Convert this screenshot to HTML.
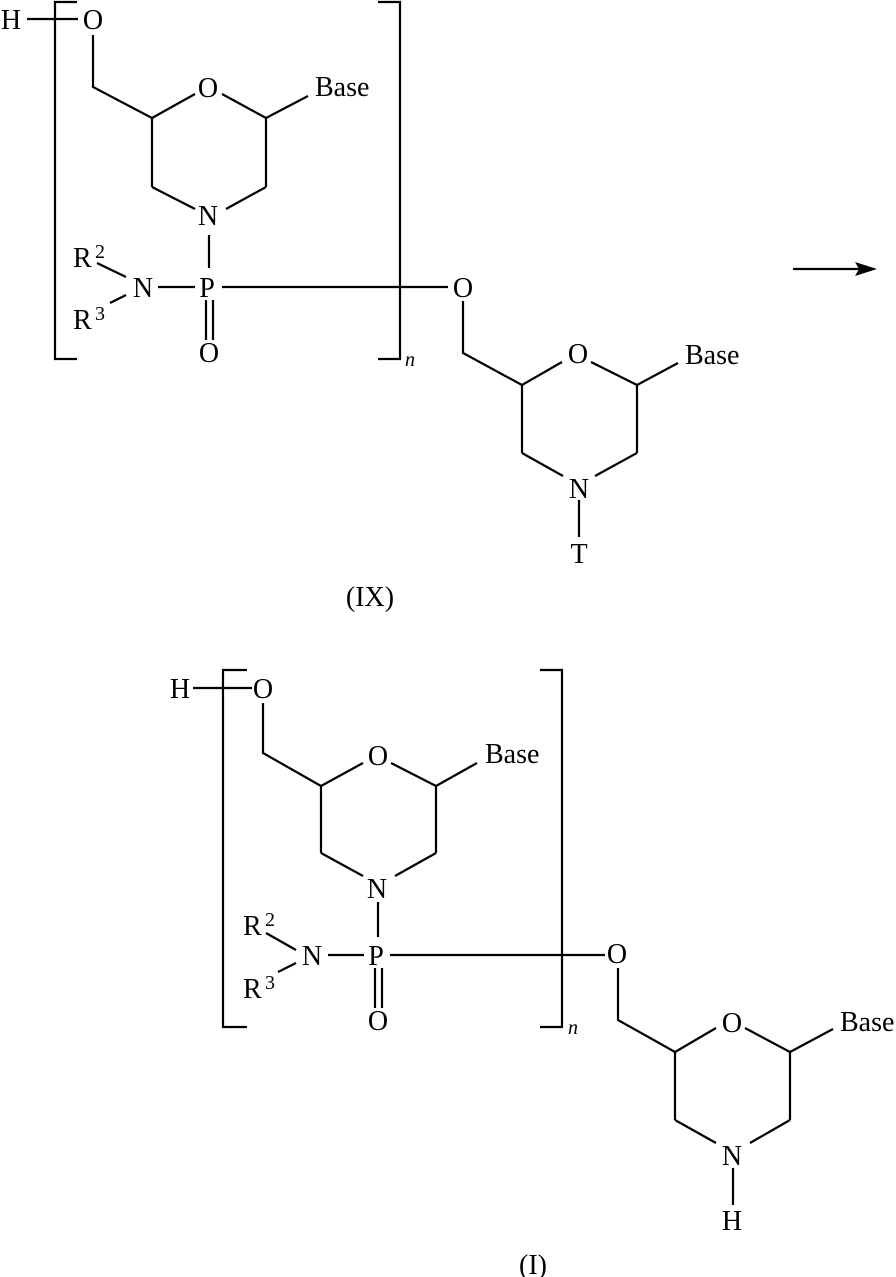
<!DOCTYPE html>
<html><head><meta charset="utf-8"><style>
html,body{margin:0;padding:0;background:#fff;}
svg{display:block;}
text{font-family:"Liberation Serif",serif;font-size:28px;fill:#000;}
.s{font-size:20px;}
.n{font-style:italic;font-size:20px;}
</style></head><body>
<svg width="896" height="1277" viewBox="0 0 896 1277" xmlns="http://www.w3.org/2000/svg">
<g stroke="#000" stroke-width="2.2" fill="none">
<line x1="27" y1="19" x2="78" y2="19"/>
<polyline points="77,2 55,2 55,359 77,359"/>
<polyline points="378,2 400,2 400,359 378,359"/>
<polyline points="93,35 93,87 152,118"/>
<line x1="152" y1="118" x2="195" y2="94"/>
<line x1="222" y1="94" x2="266" y2="118"/>
<line x1="266" y1="118" x2="308" y2="96"/>
<line x1="152" y1="118" x2="152" y2="187"/>
<line x1="266" y1="118" x2="266" y2="187"/>
<line x1="152" y1="187" x2="195" y2="209"/>
<line x1="226" y1="209" x2="266" y2="187"/>
<line x1="209" y1="235" x2="209" y2="268"/>
<line x1="97" y1="263" x2="126" y2="277"/>
<line x1="110" y1="303" x2="126" y2="295"/>
<line x1="158" y1="287" x2="195" y2="287"/>
<line x1="222" y1="287" x2="448" y2="287"/>
<line x1="206" y1="300" x2="206" y2="340"/>
<line x1="213" y1="300" x2="213" y2="340"/>
<polyline points="463,301 463,353 522,385"/>
<line x1="522" y1="385" x2="562" y2="362"/>
<line x1="591" y1="362" x2="637" y2="385"/>
<line x1="637" y1="385" x2="678" y2="363"/>
<line x1="522" y1="385" x2="522" y2="453"/>
<line x1="637" y1="385" x2="637" y2="453"/>
<line x1="522" y1="453" x2="563" y2="476"/>
<line x1="595" y1="476" x2="637" y2="453"/>
<line x1="579" y1="500" x2="579" y2="537"/>
<line x1="793" y1="269" x2="860" y2="269"/>
<line x1="193" y1="688" x2="252" y2="688"/>
<polyline points="247,670 223,670 223,1027 247,1027"/>
<polyline points="540,670 562,670 562,1027 540,1027"/>
<polyline points="263,703 263,753 321,786"/>
<line x1="321" y1="786" x2="363" y2="763"/>
<line x1="391" y1="763" x2="436" y2="786"/>
<line x1="436" y1="786" x2="477" y2="763"/>
<line x1="321" y1="786" x2="321" y2="853"/>
<line x1="436" y1="786" x2="436" y2="853"/>
<line x1="321" y1="853" x2="363" y2="876"/>
<line x1="395" y1="876" x2="436" y2="853"/>
<line x1="378" y1="902" x2="378" y2="937"/>
<line x1="266" y1="933" x2="296" y2="950"/>
<line x1="278" y1="972" x2="296" y2="963"/>
<line x1="328" y1="955" x2="364" y2="955"/>
<line x1="390" y1="955" x2="605" y2="955"/>
<line x1="375" y1="968" x2="375" y2="1008"/>
<line x1="382" y1="968" x2="382" y2="1008"/>
<polyline points="618,968 618,1020 675,1052"/>
<line x1="675" y1="1052" x2="716" y2="1028"/>
<line x1="745" y1="1028" x2="790" y2="1052"/>
<line x1="790" y1="1052" x2="833" y2="1029"/>
<line x1="675" y1="1052" x2="675" y2="1120"/>
<line x1="790" y1="1052" x2="790" y2="1120"/>
<line x1="675" y1="1120" x2="716" y2="1143"/>
<line x1="750" y1="1143" x2="790" y2="1120"/>
<line x1="733" y1="1168" x2="733" y2="1205"/>
</g>
<polygon points="855,262 877,269 855,276 859,269" fill="#000"/>
<g text-anchor="middle">
<text x="11" y="29">H</text>
<text x="93" y="29">O</text>
<text x="208" y="97">O</text>
<text x="208" y="225">N</text>
<text x="143" y="297">N</text>
<text x="207" y="297">P</text>
<text x="209" y="362">O</text>
<text x="463" y="297">O</text>
<text x="578" y="363">O</text>
<text x="579" y="498">N</text>
<text x="579" y="563">T</text>
<text x="370" y="606">(IX)</text>
<text x="180" y="698">H</text>
<text x="263" y="698">O</text>
<text x="378" y="765">O</text>
<text x="377" y="898">N</text>
<text x="312" y="965">N</text>
<text x="376" y="965">P</text>
<text x="378" y="1030">O</text>
<text x="617" y="963">O</text>
<text x="732" y="1032">O</text>
<text x="732" y="1165">N</text>
<text x="732" y="1230">H</text>
<text x="533" y="1274">(I)</text>
</g>
<text x="315" y="96">Base</text>
<text x="685" y="364">Base</text>
<text x="485" y="763">Base</text>
<text x="840" y="1031">Base</text>
<text x="73" y="267">R</text><text class="s" x="95" y="258">2</text>
<text x="73" y="329">R</text><text class="s" x="95" y="320">3</text>
<text x="243" y="935">R</text><text class="s" x="265" y="926">2</text>
<text x="243" y="998">R</text><text class="s" x="265" y="989">3</text>
<text class="n" x="405" y="366">n</text>
<text class="n" x="568" y="1034">n</text>
</svg>
</body></html>
